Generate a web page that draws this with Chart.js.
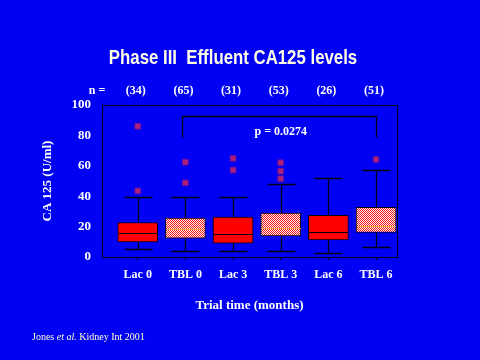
<!DOCTYPE html>
<html><head><meta charset="utf-8">
<script src="https://cdn.jsdelivr.net/npm/chart.js@4"></script>
<style>html,body{margin:0;padding:0;background:#0000f5;overflow:hidden}</style>
</head><body>
<canvas id="c" width="480" height="360" style="width:480px;height:360px;display:block"></canvas>
<script>
// ---- data ----
const categories = ['Lac 0', 'TBL 0', 'Lac 3', 'TBL 3', 'Lac 6', 'TBL 6'];
const nCounts = ['(34)', '(65)', '(31)', '(53)', '(26)', '(51)'];
const q1 = [10, 12.4, 9.1, 13.9, 11.3, 16.1];
const median = [16, 18.4, 15, 19, 16.4, 20.5];
const q3 = [22.7, 25.6, 26.3, 28.9, 27.4, 32.6];
const whiskerLow = [5.3, 4.2, 4.2, 4.0, 2.8, 6.8];
const whiskerHigh = [39.5, 39.5, 39.5, 47.7, 52, 57];
const outliers = [[86, 43.5], [62.4, 48.8], [64.9, 57.2], [62, 56.5, 51.5], [], [64.2]];
const yTickValues = [0, 20, 40, 60, 80, 100];
const pValueText = 'p = 0.0274';
const bracketFrom = 0.93, bracketTo = 5, bracketTop = 93, bracketLeg = 79;
const pTextPos = {x: 3.0, y: 82.5};

// ---- styles ----
const BG = '#0000f5';
const LINE = '#000010';
const SERIF = '"Liberation Serif", "Times New Roman", serif';

function checker() {
  const c = document.createElement('canvas');
  c.width = 2; c.height = 2;
  const g = c.getContext('2d');
  g.fillStyle = '#ffffff'; g.fillRect(0, 0, 2, 2);
  g.fillStyle = '#ff1010'; g.fillRect(0, 0, 1, 1); g.fillRect(1, 1, 1, 1);
  return g.createPattern(c, 'repeat');
}
const ctx = document.getElementById('c').getContext('2d');
const pattern = checker();
const isTBL = categories.map(c => c.startsWith('TBL'));

const boxData = categories.map((c, i) => ({x: i, y: [q1[i], q3[i]]}));
const outlierData = [];
outliers.forEach((arr, i) => arr.forEach(v => outlierData.push({x: i, y: v})));

const decor = {
  id: 'decor',
  beforeDraw(chart) {
    const g = chart.ctx;
    g.save(); g.fillStyle = BG; g.fillRect(0, 0, chart.width, chart.height); g.restore();
  },
  afterDatasetsDraw(chart) {
    const g = chart.ctx, xs = chart.scales.x, ys = chart.scales.y, a = chart.chartArea;
    const r = v => Math.round(v) + 0.5;
    g.save();
    g.setLineDash([]);
    // frame top/right
    g.lineWidth = 1;
    g.strokeStyle = LINE;
    g.beginPath();
    g.moveTo(r(a.left), r(a.top)); g.lineTo(r(a.right), r(a.top)); g.lineTo(r(a.right), r(a.bottom));
    g.stroke();
    categories.forEach((c, i) => {
      const cx = r(xs.getPixelForValue(i));
      const y1 = ys.getPixelForValue(q1[i]), y3 = ys.getPixelForValue(q3[i]);
      const yl = r(ys.getPixelForValue(whiskerLow[i])), yh = r(ys.getPixelForValue(whiskerHigh[i]));
      const ym = r(ys.getPixelForValue(median[i]));
      g.strokeStyle = LINE;
      g.lineWidth = 1.3;
      g.beginPath();
      g.moveTo(cx, Math.round(y3)); g.lineTo(cx, yh);
      g.moveTo(cx - 14, yh); g.lineTo(cx + 14, yh);
      g.moveTo(cx, Math.round(y1)); g.lineTo(cx, yl);
      g.moveTo(cx - 14, yl); g.lineTo(cx + 14, yl);
      g.stroke();
      g.lineWidth = 1;
      g.strokeStyle = isTBL[i] ? '#e8b040' : LINE;
      g.beginPath(); g.moveTo(cx - 19.5, ym); g.lineTo(cx + 19.5, ym); g.stroke();
    });
    // bracket
    const bx1 = r(xs.getPixelForValue(bracketFrom)), bx2 = r(xs.getPixelForValue(bracketTo));
    const bt = r(ys.getPixelForValue(bracketTop)), bl = r(ys.getPixelForValue(bracketLeg));
    g.strokeStyle = LINE;
    g.lineWidth = 1.3;
    g.beginPath();
    g.moveTo(bx1, bl); g.lineTo(bx1, bt); g.lineTo(bx2, bt); g.lineTo(bx2, bl);
    g.stroke();
    // p value
    g.fillStyle = '#ffffff';
    g.font = 'bold 12px ' + SERIF;
    g.textAlign = 'center'; g.textBaseline = 'middle';
    g.fillText(pValueText, xs.getPixelForValue(pTextPos.x), ys.getPixelForValue(pTextPos.y));
    // n row
    g.font = 'bold 12px ' + SERIF;
    g.fillText('n =', 97, 91);
    nCounts.forEach((t, i) => g.fillText(t, xs.getPixelForValue(i) - 2, 91));
    // title (horizontally condensed)
    g.save();
    g.fillStyle = '#ffffe8';
    g.font = 'bold 21px "Liberation Sans", Arial, sans-serif';
    g.translate(233, 58);
    g.scale(0.8, 1);
    g.fillText('Phase III  Effluent CA125 levels', 0, 0);
    g.restore();
    // footnote
    g.fillStyle = '#ffffd0';
    g.textAlign = 'left';
    let x = 32;
    const parts = [['Jones ', ''], ['et al.', 'italic '], [' Kidney Int 2001', '']];
    parts.forEach(([t, st]) => {
      g.font = st + '10px ' + SERIF;
      g.fillText(t, x, 337);
      x += g.measureText(t).width;
    });
    g.restore();
  }
};

new Chart(ctx, {
  type: 'bar',
  data: {
    datasets: [
      {
        type: 'bar',
        data: boxData,
        backgroundColor: categories.map((c, i) => isTBL[i] ? pattern : '#ff0000'),
        borderColor: LINE,
        borderWidth: 1,
        borderSkipped: false,
        barThickness: 40
      },
      {
        type: 'scatter',
        data: outlierData,
        pointStyle: 'rect',
        pointRadius: 4,
        backgroundColor: '#b0207a',
        borderColor: '#6a10a0',
        borderWidth: 1
      }
    ]
  },
  options: {
    responsive: false,
    devicePixelRatio: 1,
    animation: false,
    layout: {padding: {top: 105, right: 83, left: 0, bottom: 0}},
    plugins: {legend: {display: false}, tooltip: {enabled: false}, title: {display: false}},
    scales: {
      x: {
        type: 'linear',
        offset: false,
        min: -0.75,
        max: 5.44,
        afterBuildTicks(s) { s.ticks = categories.map((c, i) => ({value: i})); },
        afterFit(s) { s.height = 103; },
        ticks: {
          autoSkip: false, maxRotation: 0, padding: 8,
          color: '#ffffff',
          font: {family: SERIF, weight: 'bold', size: 12},
          callback: v => categories[v]
        },
        grid: {display: true, offset: false, drawOnChartArea: false, drawTicks: true, tickLength: 3, color: LINE},
        border: {display: true, color: LINE, width: 1},
        title: {
          display: true, text: 'Trial time (months)', color: '#ffffff',
          font: {family: SERIF, weight: 'bold', size: 13},
          padding: {top: 0, bottom: 47}
        }
      },
      y: {
        min: 0,
        max: 100,
        afterBuildTicks(s) { s.ticks = yTickValues.map(v => ({value: v})); },
        afterFit(s) { s.width = 102; },
        ticks: {
          padding: 11, color: '#ffffff',
          font: {family: SERIF, weight: 'bold', size: 13}
        },
        grid: {display: false, drawTicks: false},
        border: {display: true, color: LINE, width: 1},
        title: {
          display: true, text: 'CA 125 (U/ml)', color: '#ffffff',
          font: {family: SERIF, weight: 'bold', size: 13},
          padding: {top: 40, bottom: 0}
        }
      }
    }
  },
  plugins: [decor]
});
</script>
</body></html>
